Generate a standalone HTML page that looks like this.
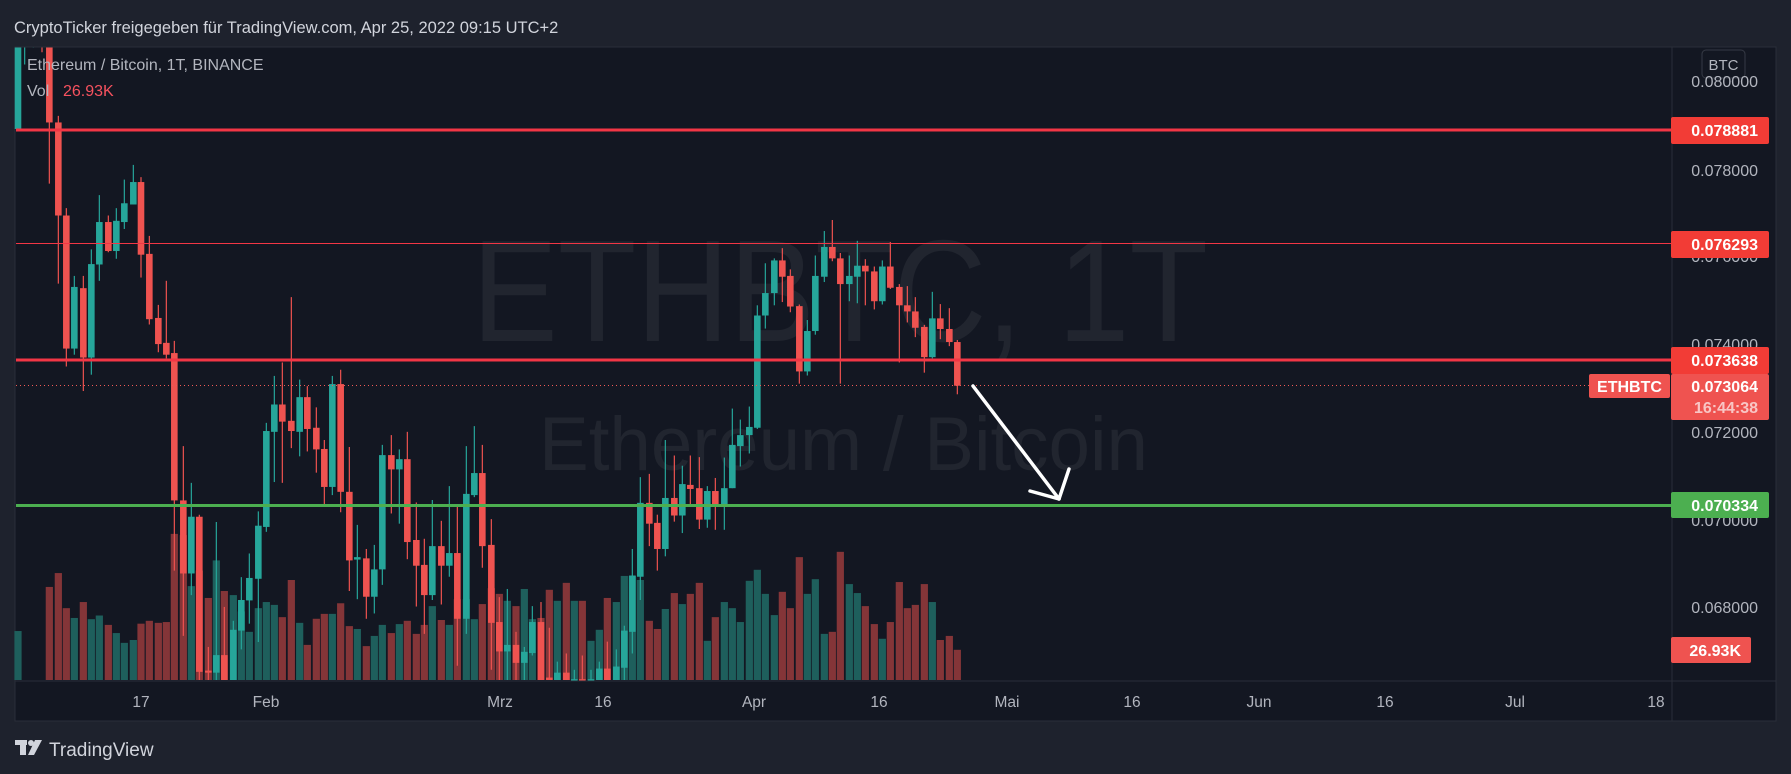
<!DOCTYPE html>
<html><head><meta charset="utf-8"><style>
html,body{margin:0;padding:0;background:#1e222d;width:1791px;height:774px;overflow:hidden}
svg{display:block}
text{font-family:"Liberation Sans","DejaVu Sans",sans-serif}
</style></head><body>
<svg id="s" width="1791" height="774" viewBox="0 0 1791 774" xmlns="http://www.w3.org/2000/svg">
<rect x="0" y="0" width="1791" height="774" fill="#1e222d"/>
<text x="14" y="33" font-size="16.5" fill="#d1d4dc">CryptoTicker freigegeben für TradingView.com, Apr 25, 2022 09:15 UTC+2</text>
<rect x="15" y="47" width="1761" height="674" fill="#131722" stroke="#2a2e39" stroke-width="1"/>
<text x="472" y="341" font-size="145" fill="#21252f" textLength="736" lengthAdjust="spacingAndGlyphs" font-family="DejaVu Sans,sans-serif">ETHBTC, 1T</text>
<text x="539" y="470" font-size="76" fill="#21252f" textLength="609" lengthAdjust="spacingAndGlyphs" font-family="DejaVu Sans,sans-serif">Ethereum / Bitcoin</text>
<g id="vol"></g>
<g id="cdl"></g>
<line x1="16" y1="130" x2="1671" y2="130" stroke="#f23645" stroke-width="3"/>
<line x1="16" y1="243.5" x2="1671" y2="243.5" stroke="#f23645" stroke-width="1"/>
<line x1="16" y1="360" x2="1671" y2="360" stroke="#f23645" stroke-width="3"/>
<line x1="16" y1="385.5" x2="1589" y2="385.5" stroke="#f05a57" stroke-width="1" stroke-dasharray="1,3"/>
<line x1="16" y1="505.5" x2="1671" y2="505.5" stroke="#4caf50" stroke-width="3"/>
<polyline points="973,386 1059,499" stroke="#fff" stroke-width="3.5" fill="none" stroke-linecap="round"/>
<polyline points="1030,491 1059,499 1069,469" stroke="#fff" stroke-width="3.5" fill="none" stroke-linecap="round" stroke-linejoin="round"/>
<text x="27" y="70" font-size="16" fill="#b2b5be">Ethereum / Bitcoin, 1T, BINANCE</text>
<text x="27" y="96" font-size="16" fill="#b2b5be">Vol</text>
<text x="63" y="96" font-size="16" fill="#f7525f">26.93K</text>
<line x1="1672" y1="47" x2="1672" y2="721" stroke="#2a2e39"/>
<line x1="15" y1="681" x2="1776" y2="681" stroke="#2a2e39"/>
<rect x="1702" y="50" width="43" height="28" rx="4" fill="#131722" stroke="#363a45"/>
<text x="1723.5" y="70" font-size="15" fill="#b2b5be" text-anchor="middle">BTC</text>
<g font-size="16" fill="#b2b5be" text-anchor="end">
<text x="1758" y="87">0.080000</text>
<text x="1758" y="176">0.078000</text>
<text x="1758" y="262">0.076000</text>
<text x="1758" y="350">0.074000</text>
<text x="1758" y="438">0.072000</text>
<text x="1758" y="526">0.070000</text>
<text x="1758" y="613">0.068000</text>
</g>
<g font-size="16" font-weight="bold" fill="#fff" text-anchor="end">
<rect x="1671" y="117" width="98" height="27" rx="2" fill="#f23c36"/><text x="1758" y="136">0.078881</text>
<rect x="1671" y="231" width="98" height="27" rx="2" fill="#f23c36"/><text x="1758" y="250">0.076293</text>
<rect x="1671" y="347" width="98" height="27" rx="2" fill="#f23c36"/><text x="1758" y="366">0.073638</text>
<rect x="1671" y="374" width="98" height="46" rx="2" fill="#ef5350"/><text x="1758" y="392">0.073064</text>
<text x="1758" y="413" fill="#f8c6c5">16:44:38</text>
<rect x="1589" y="374" width="81" height="24" rx="2" fill="#ef5350"/><text x="1629.5" y="392" text-anchor="middle">ETHBTC</text>
<rect x="1671" y="492" width="98" height="26" rx="2" fill="#4caf50"/><text x="1758" y="511">0.070334</text>
<rect x="1671" y="637" width="80" height="26" rx="2" fill="#ef5350"/><text x="1741" y="656">26.93K</text>
</g>
<g font-size="15.5" fill="#b2b5be" text-anchor="middle">
<text x="141" y="707">17</text><text x="266" y="707">Feb</text><text x="500" y="707">Mrz</text>
<text x="603" y="707">16</text><text x="754" y="707">Apr</text><text x="879" y="707">16</text>
<text x="1007" y="707">Mai</text><text x="1132" y="707">16</text><text x="1259" y="707">Jun</text>
<text x="1385" y="707">16</text><text x="1515" y="707">Jul</text><text x="1656" y="707">18</text>
</g>
<g fill="#d1d4dc">
<rect x="15" y="740" width="12" height="5"/><rect x="20" y="740" width="6" height="15"/>
<circle cx="31" cy="743" r="3"/><polygon points="35,740 42,740 34,755 28,755"/>
</g>
<text x="49" y="756" font-size="19" fill="#d1d4dc">TradingView</text>
</svg>
<script>
var G="#26a69a",R="#ef5350",VG="#1e5f5c",VR="#843538";
var z3=[[12,'G',0,0,218,218,1448],[106,'R',0,0,202,352,1340],[133,'R',186,202,430,597,1306],[157,'R',412,430,756,800,1392],[181,'G',578,605,756,771,1416],[208,'R',578,608,778,860,1377],[232,'G',513,549,778,820,1419],[256,'G',380,446,550,590,1410],[283,'R',430,446,517,520,1433],[307,'G',412,443,517,536,1453],[331,'G',342,400,446,463,1477],[358,'G',306,348,403,403,1470],[381,'R',336,348,526,582,1430],[406,'R',480,524,684,697,1423],[433,'R',649,681,745,765,1428],[457,'R',590,742,771,780,1426],[481,'R',737,767,1128,1300,1210],[508,'R',995,1128,1307,1460,1213],[532,'G',1085,1168,1307,1360,1338],[556,'R',1163,1168,1548,1568,1300],[583,'R',1487,1545,1550,1568,1367],[607,'G',1181,1507,1550,1568,1275],[631,'R',1389,1507,1568,1568,1350],[658,'G',1423,1445,1568,1568,1360],[682,'G',1316,1372,1447,1493,1400],[706,'G',1258,1318,1373,1430,1450],[733,'G',1155,1190,1320,1475,1392],[757,'G',938,958,1193,1205,1377],[781,'G',823,893,960,1083,1384],[805,'R',790,893,935,1085,1414],[832,'R',630,933,958,1000,1323],[857,'G',832,875,960,1020,1428],[880,'R',848,875,953,1008,1482],[907,'R',900,950,1003,1060,1418],[931,'R',980,1002,1095,1137,1406],[955,'G',823,843,1095,1115,1406],[980,'R',808,843,1107,1157,1380]];
var z4=[[28,'R',997,1107,1275,1350,1436],[52,'G',1188,1267,1273,1370,1443],[79,'R',1247,1270,1364,1418,1485],[103,'G',1237,1297,1364,1405,1460],[127,'G',992,1017,1297,1335,1433],[154,'R',968,1017,1052,1160,1453],[178,'G',1003,1027,1052,1185,1431],[202,'R',960,1027,1230,1272,1423],[229,'R',1133,1225,1288,1388,1455],[253,'R',1222,1286,1360,1455,1433],[277,'G',1127,1240,1360,1372,1387],[304,'R',1178,1240,1288,1383,1421],[328,'G',1093,1257,1288,1315,1433],[352,'R',1143,1257,1418,1533,1370],[379,'G',995,1112,1418,1455,1370],[403,'G',946,1061,1115,1120,1419],[427,'R',992,1061,1240,1293,1382],[454,'R',1174,1237,1428,1543,1343],[478,'R',1365,1426,1498,1568,1357],[502,'G',1345,1482,1498,1568,1374],[528,'R',1450,1482,1526,1568,1387],[553,'G',1487,1499,1526,1568,1345],[577,'G',1387,1426,1502,1508,1419],[603,'R',1377,1426,1568,1568,1416],[628,'R',1440,1562,1568,1568,1347],[652,'G',1523,1550,1568,1568,1374],[679,'R',1503,1550,1568,1568,1330],[703,'G',1543,1566,1568,1568,1374],[727,'R',1508,1566,1568,1568,1374],[753,'G',1543,1566,1568,1568,1472],[778,'G',1523,1540,1568,1568,1445],[802,'R',1474,1540,1568,1568,1367],[829,'G',1493,1535,1568,1568,1377],[853,'G',1435,1447,1538,1568,1313],[877,'G',1247,1312,1450,1503,1313],[901,'G',1071,1134,1315,1372,1323],[928,'R',1063,1134,1185,1240,1423],[952,'R',1163,1183,1247,1300,1443],[976,'G',980,1122,1247,1265,1394]];
var z5=[[28,'R',1018,1122,1165,1180,1355],[52,'G',1043,1088,1165,1208,1382],[76,'R',1018,1090,1100,1137,1357],[103,'R',1022,1098,1175,1198,1330],[127,'G',1093,1105,1175,1195,1472],[151,'R',1073,1105,1137,1200,1414],[178,'G',1023,1098,1137,1200,1377],[202,'G',903,992,1098,1098,1392],[226,'G',930,968,995,1045,1426],[253,'G',898,948,968,1013,1325],[277,'G',650,675,950,953,1298],[301,'G',547,620,675,707,1357],[328,'G',535,540,620,650,1409],[352,'R',510,540,580,642,1352],[376,'R',562,578,653,667,1392],[403,'R',648,652,812,842,1267],[427,'G',686,713,812,822,1357],[451,'G',528,578,713,722,1321],[478,'G',468,507,580,593,1455],[502,'R',441,507,535,542,1450],[526,'R',522,535,598,842,1254],[553,'G',528,578,598,640,1333],[577,'G',492,553,580,645,1355],[601,'R',537,553,567,650,1387],[628,'R',555,567,640,660,1431],[652,'G',540,555,640,648,1467],[676,'R',495,555,607,610,1426],[703,'R',598,605,650,790,1328],[727,'R',603,650,665,692,1392],[751,'R',630,665,705,728,1384],[778,'R',698,703,777,815,1333],[802,'G',617,682,777,780,1377],[826,'R',647,682,708,733,1470],[853,'R',657,708,740,750,1460],[877,'R',735,740,847,868,1494]];
var vs="",cs="";
function Y(z){return 40+z/2.45;}
function add(arr,base){arr.forEach(function(c){
 var x=base+c[0]/3, col=c[1]=='G'?G:R, vc=c[1]=='G'?VG:VR;
 var vy=Y(c[6]); vs+='<rect x="'+(x-3.6)+'" y="'+vy+'" width="7.2" height="'+(680-vy)+'" fill="'+vc+'"/>';
 var wt=Math.max(Y(c[2]),47.5),wb=Math.min(Y(c[5]),680),bt=Math.max(Y(c[3]),47.5),bb=Math.min(Y(c[4]),680);
 cs+='<line x1="'+x+'" y1="'+wt+'" x2="'+x+'" y2="'+wb+'" stroke="'+col+'" stroke-width="1.2"/>';
 cs+='<rect x="'+(x-3.3)+'" y="'+bt+'" width="6.6" height="'+Math.max(bb-bt,1.5)+'" fill="'+col+'"/>';
});}
add(z3,14);add(z4,340);add(z5,665);
[[32,0,60,'G'],[58,0,18,'G'],[84,0,30,'R']].forEach(function(w){var x=14+w[0]/3;cs+='<line x1="'+x+'" y1="47.5" x2="'+x+'" y2="'+Y(w[2])+'" stroke="'+(w[3]=='G'?G:R)+'" stroke-width="1.2"/>';});
document.getElementById('vol').innerHTML=vs;
document.getElementById('cdl').innerHTML=cs;
</script>
</body></html>
